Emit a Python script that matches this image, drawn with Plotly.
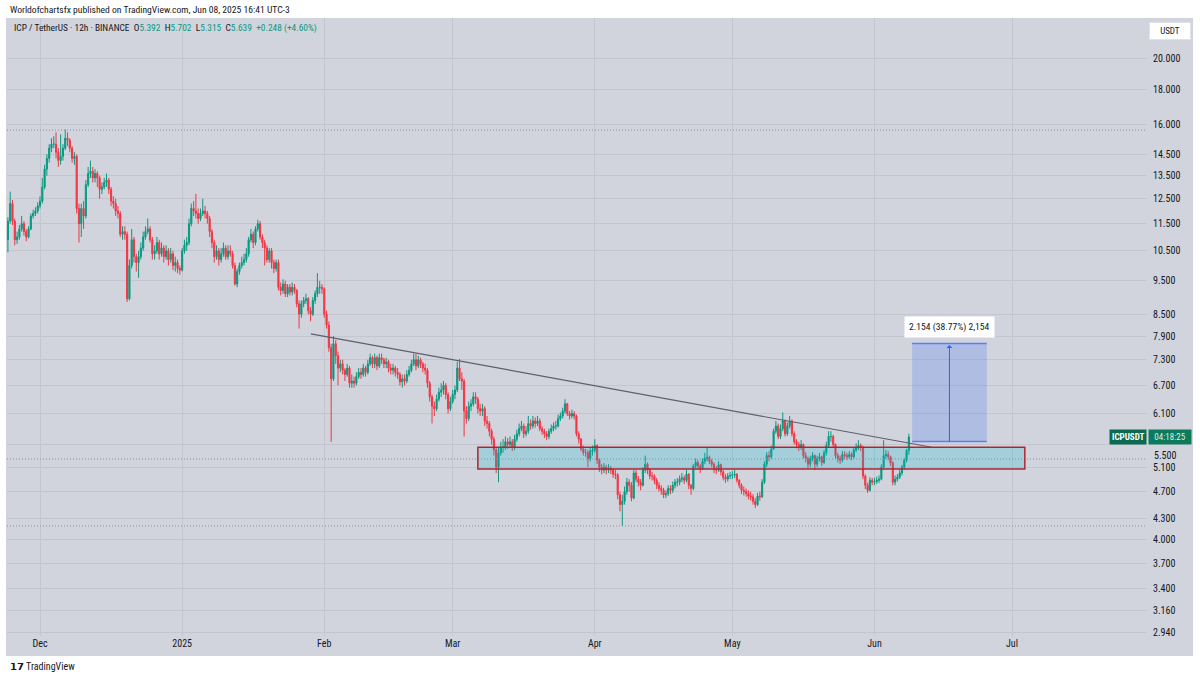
import numpy as np
import pandas as pd
import plotly.graph_objects as go

# ---------------- data (ICP/USDT, 12h candles, Binance) ----------------
first_open = 10.9
closes = [
    11.6, 12.3, 11.6, 10.9, 11.0, 11.3, 11.5, 11.2, 11.0, 11.3,
    11.8, 11.9, 12.0, 12.2, 12.4, 13.0, 13.8, 14.3, 14.8, 15.0,
    15.0, 14.6, 14.2, 14.4, 14.8, 15.3, 15.2, 14.8, 14.3, 14.4,
    12.1, 11.5, 12.1, 11.8, 13.1, 13.6, 13.7, 13.4, 13.6, 13.4,
    12.9, 13.0, 13.2, 13.3, 12.9, 12.4, 12.3, 12.0, 11.9, 11.1,
    11.2, 11.1, 8.95, 10.0, 10.9, 10.3, 10.1, 10.3, 10.6, 11.0,
    11.2, 11.3, 10.9, 10.4, 10.5, 10.8, 10.4, 10.6, 10.3, 10.5,
    10.2, 10.4, 10.0, 10.1, 9.9, 9.85, 10.5, 10.7, 10.8, 11.5,
    12.1, 12.0, 11.9, 11.7, 11.9, 12.0, 11.9, 11.7, 11.2, 10.8,
    10.3, 10.5, 10.2, 10.4, 10.6, 10.3, 10.5, 10.4, 10.0, 9.4,
    9.8, 10.0, 10.1, 10.2, 10.4, 10.9, 11.1, 10.8, 11.3, 11.5,
    11.0, 10.8, 10.6, 10.2, 10.5, 10.1, 9.9, 10.1, 9.3, 9.2,
    9.4, 9.1, 9.3, 9.15, 9.3, 9.2, 8.8, 8.5, 8.8, 8.9,
    8.95, 8.6, 8.5, 8.9, 9.1, 9.3, 9.3, 9.25, 8.5, 8.2,
    7.6, 6.85, 7.7, 7.4, 7.1, 7.2, 7.05, 6.95, 7.1, 6.75,
    6.8, 6.75, 6.9, 7.0, 6.95, 7.1, 7.0, 7.2, 7.35, 7.2,
    7.35, 7.15, 7.35, 7.3, 7.2, 7.25, 7.1, 7.05, 7.1, 7.0,
    6.95, 6.78, 6.85, 6.8, 6.95, 7.05, 7.2, 7.3, 7.15, 7.3,
    7.2, 7.1, 7.05, 6.75, 6.45, 6.25, 6.2, 6.4, 6.55, 6.6,
    6.7, 6.5, 6.2, 6.35, 6.5, 6.6, 7.1, 6.85, 6.8, 6.15,
    6.0, 6.25, 6.3, 6.45, 6.4, 6.2, 6.15, 6.2, 5.95, 5.9,
    5.75, 5.6, 5.4, 5.1, 5.35, 5.45, 5.45, 5.55, 5.5, 5.55,
    5.45, 5.6, 5.7, 5.8, 5.85, 5.7, 5.75, 5.9, 5.85, 5.95,
    5.9, 5.95, 5.8, 5.75, 5.7, 5.65, 5.75, 5.8, 5.85, 5.85,
    6.0, 6.05, 6.15, 6.3, 6.1, 6.05, 6.1, 6.05, 5.7, 5.6,
    5.42, 5.35, 5.35, 5.25, 5.38, 5.4, 5.48, 5.22, 5.1, 5.05,
    5.1, 5.05, 5.08, 5.05, 4.98, 4.97, 4.65, 4.5, 4.55, 4.7,
    4.85, 4.8, 4.6, 5.0, 4.9, 4.85, 4.8, 5.05, 5.15, 5.05,
    4.95, 4.95, 4.88, 4.8, 4.75, 4.72, 4.65, 4.67, 4.75, 4.72,
    4.8, 4.85, 4.85, 4.9, 4.92, 4.88, 4.98, 4.8, 4.75, 5.12,
    5.18, 5.12, 5.08, 5.2, 5.25, 5.27, 5.2, 5.15, 5.06, 5.05,
    5.14, 5.02, 4.93, 4.9, 4.95, 4.96, 4.97, 4.98, 4.88, 4.8,
    4.72, 4.7, 4.67, 4.63, 4.62, 4.55, 4.5, 4.63, 4.62, 4.85,
    5.15, 5.3, 5.28, 5.42, 5.75, 5.85, 5.65, 5.8, 5.95, 5.7,
    5.85, 5.95, 5.7, 5.55, 5.5, 5.45, 5.5, 5.3, 5.25, 5.15,
    5.25, 5.3, 5.15, 5.25, 5.28, 5.18, 5.35, 5.48, 5.65, 5.65,
    5.5, 5.3, 5.25, 5.22, 5.32, 5.3, 5.28, 5.32, 5.28, 5.4,
    5.45, 5.48, 5.45, 4.95, 4.8, 4.72, 4.88, 4.85, 4.86, 4.88,
    4.9, 5.1, 5.3, 5.32, 5.28, 5.17, 4.85, 4.9, 4.93, 5.0,
    5.1, 5.22, 5.392, 5.639,
]
highs = [
    11.75, 12.8, 12.45, 11.7, 11.2, 11.45, 11.8, 11.6, 11.3, 11.4,
    11.9, 12.05, 12.15, 12.35, 12.6, 13.4, 14.0, 14.5, 15.0, 15.3,
    15.4, 15.6, 14.8, 15.5, 15.0, 15.75, 15.6, 15.3, 14.9, 14.6,
    14.5, 12.3, 12.3, 12.4, 13.3, 13.9, 14.2, 13.9, 13.8, 13.7,
    13.5, 13.2, 13.4, 13.6, 13.4, 13.0, 12.6, 12.5, 12.2, 12.0,
    11.4, 11.4, 11.2, 10.2, 11.3, 11.0, 10.4, 10.5, 10.8, 11.2,
    11.4, 11.7, 11.4, 11.0, 10.7, 11.0, 10.9, 10.8, 10.7, 10.7,
    10.6, 10.6, 10.5, 10.3, 10.2, 10.0, 10.6, 10.9, 11.0, 11.7,
    12.3, 12.4, 12.7, 12.1, 12.1, 12.5, 12.2, 12.0, 11.8, 11.3,
    10.9, 10.7, 10.6, 10.6, 10.8, 10.7, 10.7, 10.7, 10.5, 10.1,
    9.9, 10.1, 10.3, 10.4, 10.6, 11.0, 11.3, 11.2, 11.4, 11.65,
    11.6, 11.1, 10.9, 10.7, 10.6, 10.6, 10.2, 10.2, 10.2, 9.45,
    9.55, 9.5, 9.4, 9.4, 9.45, 9.4, 9.25, 8.9, 8.9, 9.0,
    9.1, 9.0, 8.7, 9.0, 9.2, 9.75, 9.5, 9.4, 9.3, 8.6,
    8.3, 7.7, 7.9, 7.8, 7.5, 7.3, 7.3, 7.1, 7.2, 7.15,
    6.95, 6.9, 7.0, 7.1, 7.1, 7.2, 7.15, 7.3, 7.45, 7.4,
    7.45, 7.4, 7.45, 7.45, 7.35, 7.35, 7.3, 7.2, 7.2, 7.15,
    7.1, 7.0, 6.95, 6.95, 7.05, 7.15, 7.3, 7.45, 7.45, 7.4,
    7.35, 7.25, 7.2, 7.1, 6.8, 6.5, 6.35, 6.5, 6.65, 6.75,
    6.8, 6.75, 6.55, 6.45, 6.6, 6.7, 7.25, 7.32, 7.0, 6.85,
    6.25, 6.35, 6.4, 6.55, 6.55, 6.45, 6.3, 6.3, 6.25, 6.05,
    5.95, 5.8, 5.65, 5.45, 5.45, 5.55, 5.6, 5.65, 5.62, 5.65,
    5.6, 5.68, 5.78, 5.9, 5.95, 5.9, 5.85, 6.05, 5.98, 6.05,
    6.02, 6.05, 6.0, 5.85, 5.8, 5.75, 5.8, 5.88, 5.92, 5.95,
    6.08, 6.12, 6.22, 6.4, 6.32, 6.15, 6.18, 6.15, 6.08, 5.75,
    5.62, 5.48, 5.42, 5.4, 5.45, 5.48, 5.6, 5.5, 5.25, 5.15,
    5.17, 5.14, 5.15, 5.12, 5.08, 5.05, 5.0, 4.7, 4.65, 4.78,
    4.92, 4.9, 4.85, 5.05, 5.05, 4.95, 4.9, 5.1, 5.3, 5.18,
    5.08, 5.02, 4.98, 4.92, 4.85, 4.8, 4.76, 4.72, 4.8, 4.8,
    4.86, 4.9, 4.92, 4.96, 5.0, 4.96, 5.05, 5.0, 4.82, 5.15,
    5.25, 5.22, 5.16, 5.25, 5.35, 5.45, 5.3, 5.24, 5.18, 5.12,
    5.2, 5.16, 5.05, 4.98, 5.0, 5.02, 5.03, 5.05, 5.0, 4.9,
    4.83, 4.78, 4.75, 4.72, 4.7, 4.66, 4.6, 4.68, 4.7, 4.9,
    5.2, 5.36, 5.38, 5.48, 5.8, 5.95, 5.9, 5.88, 6.12, 5.98,
    5.92, 6.05, 5.98, 5.75, 5.6, 5.55, 5.58, 5.52, 5.36, 5.28,
    5.3, 5.36, 5.32, 5.3, 5.35, 5.3, 5.4, 5.55, 5.75, 5.75,
    5.68, 5.52, 5.35, 5.3, 5.38, 5.38, 5.35, 5.38, 5.36, 5.45,
    5.52, 5.58, 5.52, 5.48, 4.98, 4.84, 4.93, 4.92, 4.92, 4.94,
    4.96, 5.15, 5.58, 5.4, 5.38, 5.3, 5.2, 4.96, 4.98, 5.05,
    5.14, 5.26, 5.42, 5.702,
]
lows = [
    10.45, 11.5, 11.45, 10.7, 10.75, 10.9, 11.2, 11.05, 10.85, 10.95,
    11.25, 11.7, 11.8, 11.9, 12.1, 12.3, 12.9, 13.5, 14.1, 14.6,
    14.8, 14.3, 13.9, 14.0, 14.2, 14.7, 14.9, 14.6, 14.1, 14.0,
    11.9, 10.8, 11.0, 11.3, 11.7, 13.0, 13.4, 13.2, 13.2, 13.0,
    12.5, 12.7, 12.9, 13.0, 12.7, 12.2, 12.1, 11.8, 11.7, 11.0,
    10.9, 10.9, 8.85, 8.9, 9.9, 10.1, 9.8, 9.6, 10.2, 10.5,
    10.9, 11.1, 10.8, 10.2, 10.2, 10.4, 10.2, 10.3, 10.1, 10.2,
    10.0, 10.1, 9.85, 9.8, 9.75, 9.7, 9.8, 10.4, 10.5, 10.7,
    11.4, 11.8, 11.7, 11.5, 11.6, 11.8, 11.7, 11.5, 11.0, 10.6,
    10.1, 10.2, 10.0, 10.1, 10.3, 10.2, 10.2, 10.3, 9.9, 9.35,
    9.3, 9.7, 9.9, 10.0, 10.1, 10.3, 10.8, 10.6, 10.7, 11.2,
    10.9, 10.6, 10.0, 10.1, 10.1, 9.9, 9.75, 9.8, 9.2, 9.05,
    9.1, 9.0, 9.0, 9.05, 9.05, 9.1, 8.7, 8.1, 8.4, 8.7,
    8.8, 8.5, 8.3, 8.45, 8.8, 9.0, 9.1, 9.1, 8.4, 8.1,
    7.5, 5.55, 6.8, 7.2, 6.7, 7.0, 6.95, 6.8, 6.9, 6.65,
    6.65, 6.65, 6.7, 6.85, 6.85, 6.9, 6.9, 6.95, 7.15, 7.1,
    7.1, 7.05, 7.1, 7.2, 7.1, 7.1, 7.0, 6.95, 6.95, 6.9,
    6.85, 6.7, 6.65, 6.7, 6.75, 6.9, 7.0, 7.15, 7.05, 7.1,
    7.1, 7.0, 6.95, 6.65, 6.35, 5.9, 6.05, 6.15, 6.35, 6.45,
    6.5, 6.4, 6.1, 6.15, 6.3, 6.4, 6.55, 6.8, 6.6, 5.65,
    5.9, 5.95, 6.15, 6.25, 6.3, 6.1, 6.05, 6.05, 5.85, 5.8,
    5.65, 5.5, 5.3, 5.0, 4.85, 5.3, 5.35, 5.4, 5.42, 5.45,
    5.38, 5.4, 5.55, 5.65, 5.75, 5.62, 5.65, 5.7, 5.78, 5.8,
    5.82, 5.85, 5.75, 5.68, 5.62, 5.58, 5.6, 5.7, 5.75, 5.78,
    5.82, 5.95, 6.0, 6.1, 6.05, 5.98, 6.0, 5.98, 5.65, 5.52,
    5.38, 5.3, 5.28, 5.1, 5.2, 5.3, 5.35, 5.15, 5.02, 4.98,
    5.0, 4.98, 5.0, 4.98, 4.92, 4.9, 4.58, 4.4, 4.19, 4.5,
    4.65, 4.7, 4.55, 4.58, 4.85, 4.78, 4.72, 4.78, 5.0, 4.98,
    4.9, 4.88, 4.82, 4.74, 4.7, 4.65, 4.6, 4.6, 4.63, 4.66,
    4.68, 4.75, 4.78, 4.8, 4.85, 4.82, 4.85, 4.74, 4.65, 4.72,
    5.08, 5.06, 5.0, 5.05, 5.15, 5.2, 5.15, 5.1, 5.0, 4.98,
    5.02, 4.96, 4.88, 4.84, 4.86, 4.9, 4.9, 4.92, 4.84, 4.75,
    4.66, 4.64, 4.62, 4.58, 4.56, 4.5, 4.45, 4.48, 4.56, 4.6,
    4.82, 5.1, 5.2, 5.24, 5.4, 5.7, 5.6, 5.6, 5.75, 5.65,
    5.66, 5.8, 5.65, 5.5, 5.43, 5.38, 5.4, 5.25, 5.18, 5.08,
    5.1, 5.2, 5.05, 5.1, 5.2, 5.12, 5.15, 5.3, 5.45, 5.55,
    5.45, 5.25, 5.18, 5.15, 5.18, 5.24, 5.22, 5.24, 5.22, 5.25,
    5.36, 5.4, 5.38, 4.9, 4.74, 4.68, 4.7, 4.8, 4.8, 4.82,
    4.84, 4.88, 5.06, 5.24, 5.22, 5.12, 4.8, 4.8, 4.86, 4.9,
    4.96, 5.06, 5.18, 5.315,
]
# 24/7 market: each 12h candle opens at the previous close
opens = [first_open] + closes[:-1]
times = pd.date_range("2024-11-24 00:00", periods=len(closes), freq="12h")

month_ticks = ["2024-12-01", "2025-01-01", "2025-02-01", "2025-03-01",
               "2025-04-01", "2025-05-01", "2025-06-01", "2025-07-01"]
month_labels = ["Dec", "2025", "Feb", "Mar", "Apr", "May", "Jun", "Jul"]
price_ticks = [2.94, 3.16, 3.4, 3.7, 4.0, 4.3, 4.7, 5.1, 5.5, 6.1, 6.7, 7.3,
               7.9, 8.5, 9.5, 10.5, 11.5, 12.5, 13.5, 14.5, 16.0, 18.0, 20.0]
hidden_tick = 5.5   # its label sits partly under the last-price tag
price_labels = ["" if v == hidden_tick else f"{v:.3f}" for v in price_ticks]

# drawings on the chart
trend_t = ["2025-01-29 02:00", "2025-06-13 12:00"]
trend_p = [7.96, 5.45]
zone_t = ["2025-03-06 12:00", "2025-07-03 19:00"]
zone_p = [5.07, 5.45]
measure_t = ["2025-06-09 05:00", "2025-06-25 12:00"]
measure_mid = "2025-06-17 08:30"
measure_p = [5.555, 7.709]
dotted_levels = [15.72, 5.24, 4.19]
last_price = 5.639

# ---------------- figure ----------------
FONT = "Liberation Sans Narrow, Roboto Condensed, Arial Narrow, Roboto, sans-serif"
BG = "#d1d4dc"
GRID = "#c3c6ce"
TXT = "#131722"
UP = "#089981"
DN = "#f23645"

fig = go.Figure()
fig.add_trace(go.Candlestick(
    x=times, open=opens, high=highs, low=lows, close=closes,
    increasing=dict(line=dict(color=UP, width=1), fillcolor=UP),
    decreasing=dict(line=dict(color=DN, width=1), fillcolor=DN),
    whiskerwidth=0, hoverinfo="skip", showlegend=False,
))

day0 = pd.Timestamp("2024-12-01")
x_start = day0 + pd.Timedelta(days=-7.2)
x_end = day0 + pd.Timedelta(days=241.44)

shapes = []
shapes.append(dict(type="rect", xref="paper", yref="paper", x0=-0.0009, x1=1.0404,
                   y0=-0.0324, y1=1.0, fillcolor=BG, line=dict(width=0), layer="below"))
for lv in dotted_levels:
    shapes.append(dict(type="line", xref="paper", yref="y", x0=0, x1=1, y0=lv, y1=lv,
                       line=dict(color="#8d909a", width=1, dash="1px,2px"), layer="above"))
shapes.append(dict(type="line", xref="x", yref="y", x0=trend_t[0], x1=trend_t[1],
                   y0=trend_p[0], y1=trend_p[1], line=dict(color="#5d606b", width=1.2)))
shapes.append(dict(type="rect", xref="x", yref="y", x0=zone_t[0], x1=zone_t[1],
                   y0=zone_p[0], y1=zone_p[1], fillcolor="rgba(0,188,212,0.22)",
                   line=dict(color="#b02630", width=1.5), layer="above"))
shapes.append(dict(type="rect", xref="x", yref="y", x0=measure_t[0], x1=measure_t[1],
                   y0=measure_p[0], y1=measure_p[1], fillcolor="rgba(41,98,255,0.2)",
                   line=dict(width=0), layer="above"))
for pv in measure_p:
    shapes.append(dict(type="line", xref="x", yref="y", x0=measure_t[0], x1=measure_t[1],
                       y0=pv, y1=pv, line=dict(color="#5b7ff0", width=1.5)))

def py(px):
    return (636 - px) / 618.0

def pxr(x):
    return (x - 7) / 1140.0

AX = 10
annotations = [
    dict(xref="paper", yref="paper", x=pxr(8), y=py(9), xanchor="left", yanchor="middle",
         text="Worldofchartsfx published on TradingView.com, Jun 08, 2025 16:41 UTC-3",
         showarrow=False, font=dict(family=FONT, size=9.6, color=TXT)),
    dict(xref="paper", yref="paper", x=pxr(12), y=py(28), xanchor="left", yanchor="middle",
         text=("ICP / TetherUS · 12h · BINANCE  O<span style='color:#089981'>5.392</span>"
               "  H<span style='color:#089981'>5.702</span>  L<span style='color:#089981'>5.315</span>"
               "  C<span style='color:#089981'>5.639</span>  <span style='color:#089981'>+0.248 (+4.60%)</span>"),
         showarrow=False, font=dict(family=FONT, size=9.4, color=TXT)),
    dict(xref="paper", yref="paper", x=pxr(1170), y=py(31), xanchor="center", yanchor="middle",
         text="USDT", showarrow=False, bgcolor="white", bordercolor="#e0e3eb", borderwidth=1,
         borderpad=3, width=34, font=dict(family=FONT, size=9, color=TXT)),
    dict(xref="paper", yref="y", x=pxr(1152), y=np.log10(hidden_tick), xanchor="left",
         yanchor="top", yshift=-3, text=f"{hidden_tick:.3f}", showarrow=False,
         font=dict(family=FONT, size=AX, color=TXT)),
    dict(xref="paper", yref="y", x=1.0, y=np.log10(last_price), xanchor="right", yanchor="middle",
         text="<b>ICPUSDT</b>", showarrow=False, bgcolor="#0b6b50", borderpad=2,
         font=dict(family=FONT, size=9, color="white")),
    dict(xref="paper", yref="y", x=pxr(1148), y=np.log10(last_price), xanchor="left", yanchor="middle",
         text="04:18:25", showarrow=False, bgcolor="#0e7a5c", borderpad=2, width=38,
         font=dict(family=FONT, size=9, color="#d8f0e8")),
    dict(xref="x", yref="y", x=measure_mid, y=np.log10(measure_p[0]),
         axref="x", ayref="y", ax=measure_mid, ay=np.log10(measure_p[1]),
         text="", showarrow=True, arrowside="start", arrowhead=1, arrowsize=1, arrowwidth=1,
         arrowcolor="#2962ff", standoff=0, startstandoff=0),
    dict(xref="x", yref="y", x=measure_mid, y=np.log10(measure_p[1]), yshift=16,
         text="2.154 (38.77%) 2,154", showarrow=False, bgcolor="white", borderpad=4,
         font=dict(family=FONT, size=9.6, color=TXT)),
    dict(xref="paper", yref="paper", x=pxr(8), y=py(667), xanchor="left", yanchor="middle",
         text="<b>𝟭𝟳</b> TradingView", showarrow=False,
         font=dict(family=FONT, size=10, color=TXT)),
]

fig.update_layout(
    width=1200, height=680,
    margin=dict(l=7, r=53, t=18, b=44, pad=0),
    paper_bgcolor="white", plot_bgcolor="rgba(0,0,0,0)",
    font=dict(family=FONT, size=AX, color=TXT),
    shapes=shapes, annotations=annotations,
    hovermode=False, dragmode=False,
    xaxis=dict(type="date", range=[x_start, x_end], rangeslider=dict(visible=False),
               tickvals=month_ticks, ticktext=month_labels, showgrid=True, gridcolor=GRID,
               gridwidth=1, zeroline=False, showline=False, ticks="",
               tickfont=dict(family=FONT, size=AX, color=TXT)),
    yaxis=dict(type="log", side="right", range=[0.46262, 1.35905],
               tickvals=price_ticks, ticktext=price_labels, showgrid=True, gridcolor=GRID,
               gridwidth=1, zeroline=False, showline=False, ticks="", ticklabelstandoff=5,
               tickfont=dict(family=FONT, size=AX, color=TXT)),
)

fig.write_html("out.html")
